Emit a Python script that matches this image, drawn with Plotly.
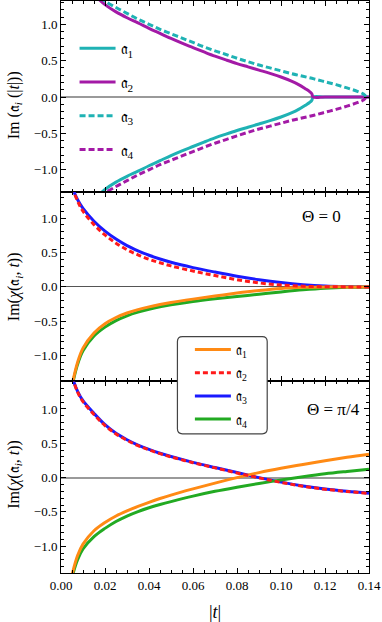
import plotly.graph_objects as go
from plotly.subplots import make_subplots

# --- panel 1: Im(a_i(|t|)) ---
t_a12 = [0.017, 0.02, 0.025, 0.03, 0.035, 0.04, 0.045, 0.05, 0.055, 0.06, 0.065, 0.07,
         0.075, 0.08, 0.085, 0.09, 0.095, 0.10, 0.105, 0.108, 0.111, 0.113, 0.114, 0.1146,
         0.12, 0.13, 0.14]
im_a2 = [1.35, 1.27, 1.17, 1.09, 1.02, 0.945, 0.875, 0.805, 0.74, 0.68, 0.62, 0.562,
         0.51, 0.46, 0.415, 0.37, 0.325, 0.275, 0.215, 0.17, 0.115, 0.075, 0.045, 0.0,
         0.0, 0.0, 0.0]
im_a1 = [-1.35, -1.27, -1.17, -1.09, -1.02, -0.945, -0.875, -0.805, -0.74, -0.68, -0.62, -0.562,
         -0.51, -0.46, -0.415, -0.37, -0.325, -0.275, -0.215, -0.17, -0.115, -0.075, -0.045, 0.0,
         0.0, 0.0, 0.0]
t_a34 = [0.018, 0.02, 0.025, 0.03, 0.035, 0.04, 0.045, 0.05, 0.055, 0.06, 0.065, 0.07,
         0.075, 0.08, 0.085, 0.09, 0.095, 0.10, 0.105, 0.11, 0.115, 0.12, 0.125, 0.13,
         0.135, 0.1375, 0.139, 0.14]
im_a3 = [1.37, 1.32, 1.23, 1.15, 1.07, 1.0, 0.93, 0.87, 0.81, 0.75, 0.69, 0.635,
         0.585, 0.533, 0.485, 0.44, 0.40, 0.36, 0.32, 0.285, 0.25, 0.21, 0.17, 0.125,
         0.075, 0.04, 0.0, 0.0]
im_a4 = [-1.37, -1.32, -1.23, -1.15, -1.07, -1.0, -0.93, -0.87, -0.81, -0.75, -0.69, -0.635,
         -0.585, -0.533, -0.485, -0.44, -0.40, -0.36, -0.32, -0.285, -0.25, -0.21, -0.17, -0.125,
         -0.075, -0.04, 0.0, 0.0]

# --- panels 2, 3: Im(chi(a_i, t)) ---
t_chi = [0.005, 0.0075, 0.01, 0.015, 0.02, 0.025, 0.03, 0.035, 0.04, 0.045, 0.05, 0.06,
         0.07, 0.08, 0.09, 0.10, 0.11, 0.12, 0.13, 0.14]
# Theta = 0
th0_a1 = [-1.43, -1.10, -0.89, -0.67, -0.535, -0.445, -0.38, -0.33, -0.29, -0.256, -0.227, -0.178,
          -0.133, -0.09, -0.052, -0.022, -0.006, 0.0, 0.0, 0.0]
th0_a2 = [1.45, 1.25, 1.10, 0.905, 0.755, 0.635, 0.54, 0.465, 0.402, 0.35, 0.305, 0.23,
          0.165, 0.105, 0.058, 0.027, 0.01, 0.003, 0.0, 0.0]
th0_a3 = [1.45, 1.27, 1.14, 0.955, 0.81, 0.695, 0.60, 0.525, 0.46, 0.405, 0.357, 0.28,
          0.215, 0.155, 0.105, 0.064, 0.033, 0.013, 0.004, 0.0]
th0_a4 = [-1.45, -1.13, -0.93, -0.715, -0.585, -0.49, -0.42, -0.367, -0.325, -0.29, -0.261, -0.213,
          -0.174, -0.14, -0.106, -0.073, -0.043, -0.019, -0.005, 0.0]
# Theta = pi/4
th4_a1 = [-1.42, -1.14, -0.97, -0.775, -0.655, -0.56, -0.485, -0.42, -0.36, -0.305, -0.255, -0.165,
          -0.08, 0.0, 0.072, 0.135, 0.192, 0.245, 0.295, 0.34]
th4_a2 = [1.47, 1.25, 1.105, 0.92, 0.758, 0.635, 0.543, 0.466, 0.403, 0.349, 0.302, 0.217,
          0.142, 0.068, -0.004, -0.07, -0.126, -0.17, -0.203, -0.23]
th4_a3 = [1.47, 1.26, 1.12, 0.935, 0.77, 0.645, 0.552, 0.474, 0.41, 0.355, 0.307, 0.222,
          0.146, 0.073, 0.0, -0.066, -0.122, -0.166, -0.2, -0.227]
th4_a4 = [-1.45, -1.2, -1.04, -0.86, -0.74, -0.64, -0.56, -0.495, -0.44, -0.393, -0.35, -0.27,
          -0.20, -0.14, -0.085, -0.035, 0.012, 0.055, 0.09, 0.122]

labels = ["\U0001D51E<sub>1</sub>", "\U0001D51E<sub>2</sub>",
          "\U0001D51E<sub>3</sub>", "\U0001D51E<sub>4</sub>"]
ytitles = ["Im (\U0001D51E<sub><i>i</i></sub> (|<i>t</i>|))",
           "Im(<i>\u03c7</i>(\U0001D51E<sub><i>i</i></sub>, <i>t</i>))",
           "Im(<i>\u03c7</i>(\U0001D51E<sub><i>i</i></sub>, <i>t</i>))"]

CYAN, PURPLE = "#1fb2b4", "#a31aa6"
ORANGE, RED, BLUE, GREEN = "#ff8a14", "#ff1a1a", "#1a1aff", "#22aa22"
FONT = "Liberation Serif"

fig = make_subplots(rows=3, cols=1, shared_xaxes=True, vertical_spacing=0)

p1 = [(t_a12, im_a1, CYAN, "solid"), (t_a12, im_a2, PURPLE, "solid"),
      (t_a34, im_a3, CYAN, "6px,3px"), (t_a34, im_a4, PURPLE, "6px,3px")]
for i, (tt, yy, col, dash) in enumerate(p1):
    fig.add_trace(go.Scatter(x=tt, y=yy, mode="lines", name=labels[i],
                             line=dict(color=col, width=3, dash=dash, shape="spline"),
                             legend="legend", legendgroup=f"p1{i}", legendrank=i + 1),
                  row=1, col=1)

chi_cols = [ORANGE, RED, BLUE, GREEN]
chi_dash = ["solid", "5px,3px", "solid", "solid"]
draw_order = [2, 3, 0, 1]  # blue, green, orange, red on top
for row, data in [(2, [th0_a1, th0_a2, th0_a3, th0_a4]), (3, [th4_a1, th4_a2, th4_a3, th4_a4])]:
    for i in draw_order:
        tr = go.Scatter(x=t_chi, y=data[i], mode="lines", name=labels[i],
                        line=dict(color=chi_cols[i], width=3, dash=chi_dash[i], shape="spline"),
                        legend="legend2", legendrank=i + 1, showlegend=(row == 2))
        if row == 2:
            tr.legendgroup = f"c{i}"
        fig.add_trace(tr, row=row, col=1)

axis_common = dict(showline=True, linecolor="black", linewidth=1, mirror="allticks",
                   ticks="inside", ticklen=5, tickcolor="black", showgrid=False, automargin=False,
                   tickfont=dict(family=FONT, size=13, color="black"))
fig.update_xaxes(**axis_common, range=[0, 0.14], dtick=0.02, tick0=0, tickformat=".2f",
                 zeroline=False,
                 minor=dict(ticks="inside", ticklen=3, dtick=0.005, tickcolor="black", showgrid=False))
fig.update_xaxes(showticklabels=False, row=1, col=1)
fig.update_xaxes(showticklabels=False, row=2, col=1)
fig.update_xaxes(title=dict(text="|<i>t</i>|", font=dict(family=FONT, size=18, color="black"), standoff=14),
                 row=3, col=1)

fig.update_yaxes(**axis_common, dtick=0.5, tick0=0, tickformat=".1f",
                 zeroline=True, zerolinecolor="#9a9a9a", zerolinewidth=1.5,
                 minor=dict(ticks="inside", ticklen=3, dtick=0.1, tickcolor="black", showgrid=False))
fig.update_yaxes(range=[-1.3, 1.32], domain=[0.6668, 1.0], row=1, col=1)
fig.update_yaxes(range=[-1.375, 1.385], domain=[0.3348, 0.6668], zerolinecolor="#555555", zerolinewidth=1,
                 row=2, col=1)
fig.update_yaxes(range=[-1.39, 1.40], domain=[0.0, 0.3348], row=3, col=1)

# y titles as rotated annotations
for txt, yc in zip(ytitles, [0.818, 0.5, 0.172]):
    fig.add_annotation(text=txt, xref="paper", yref="paper", x=-0.152, y=yc,
                       xanchor="center", yanchor="middle", textangle=-90, showarrow=False,
                       font=dict(family=FONT, size=16, color="black"))

# rounded legend box for panels 2/3
x0, x1, y0, y1 = 0.378, 0.6695, 0.2434, 0.4134
rx, ry = 0.0162, 0.0087
box = (f"M {x0+rx},{y0} L {x1-rx},{y0} Q {x1},{y0} {x1},{y0+ry} L {x1},{y1-ry} "
       f"Q {x1},{y1} {x1-rx},{y1} L {x0+rx},{y1} Q {x0},{y1} {x0},{y1-ry} "
       f"L {x0},{y0+ry} Q {x0},{y0} {x0+rx},{y0} Z")
fig.add_shape(type="path", path=box, xref="paper", yref="paper", layer="above",
              fillcolor="white", line=dict(color="#444444", width=1.2))

fig.add_annotation(text="\u0398 = 0", xref="paper", yref="paper", x=0.915, y=0.623,
                   xanchor="right", yanchor="middle", showarrow=False,
                   font=dict(family=FONT, size=17, color="black"))
fig.add_annotation(text="\u0398 = \u03c0/4", xref="paper", yref="paper", x=0.976, y=0.2855,
                   xanchor="right", yanchor="middle", showarrow=False,
                   font=dict(family=FONT, size=17, color="black"))

fig.update_layout(
    width=382, height=622,
    margin=dict(l=61, r=13, t=1, b=49, autoexpand=False),
    plot_bgcolor="white", paper_bgcolor="white",
    legend=dict(x=0.044, xanchor="left", y=0.947, yanchor="top", bgcolor="rgba(0,0,0,0)",
                font=dict(family=FONT, size=16, color="black"), tracegroupgap=10, itemwidth=36),
    legend2=dict(x=0.4185, xanchor="left", y=0.418, yanchor="top", bgcolor="rgba(0,0,0,0)",
                 font=dict(family=FONT, size=14, color="black"), tracegroupgap=2, itemwidth=36),
)

fig.write_html("out.html", config={"displayModeBar": False},
               post_script="document.body.style.margin='0';")
